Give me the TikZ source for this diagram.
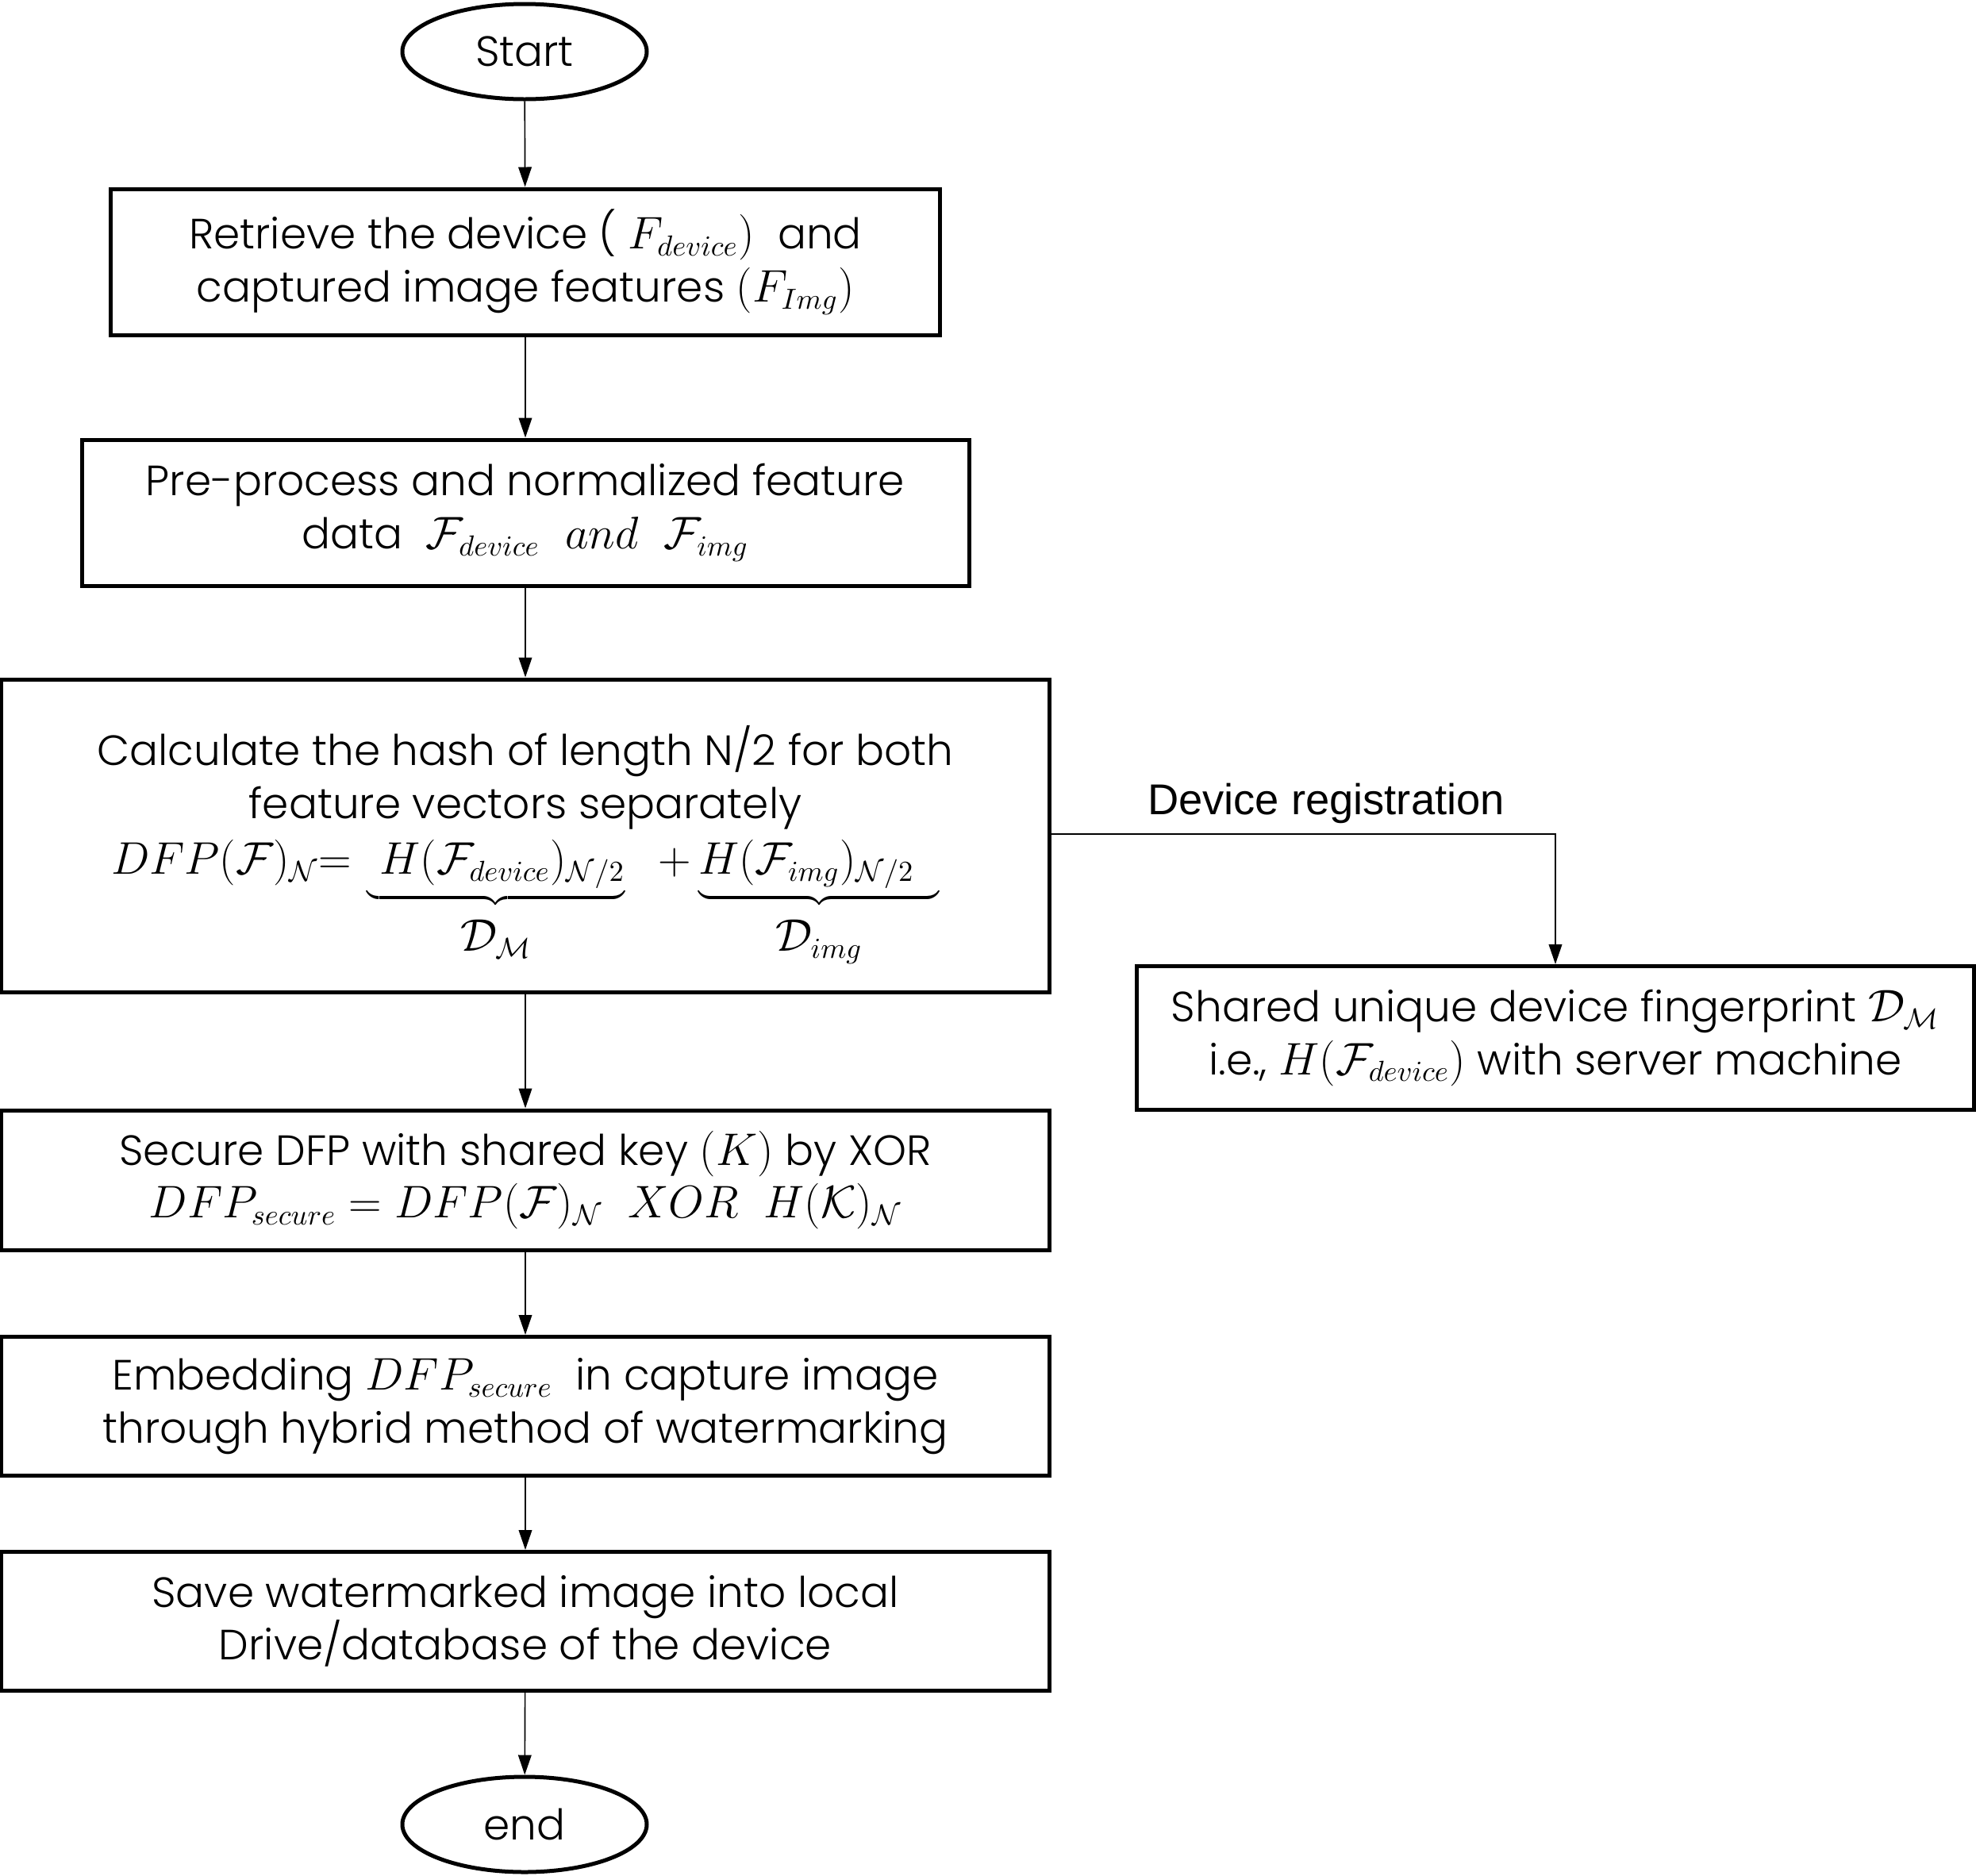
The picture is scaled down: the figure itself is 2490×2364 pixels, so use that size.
\documentclass[tikz,border=0pt]{standalone}
\usepackage{fontspec}
\setmainfont{Poppins}[UprightFont={* Light}]
\newfontfamily\arialfont{Liberation Sans}
\usetikzlibrary{shapes.geometric,arrows.meta}
\newcommand\boxfont{\fontsize{16}{20}\selectfont}
\tikzset{
  box/.style={draw, line width=1.5pt, rectangle, align=center, font=\boxfont, inner sep=0pt},
  term/.style={draw, line width=1.5pt, ellipse, minimum width=92.4pt, minimum height=36pt, inner sep=0pt, font=\boxfont},
  flow/.style={-{Triangle[length=7.5pt,width=5pt]}, line width=0.5pt},
  lbl/.style={font=\arialfont\fontsize{16.3}{19}\selectfont, inner sep=0pt}
}
\begin{document}
\begin{tikzpicture}[x=0.3pt,y=-0.3pt]
\useasboundingbox (0,0) rectangle (2490,2364);
\node[term] (start) at (661,65) {Start};
\node[box, minimum width=313.5pt, minimum height=55.2pt] (b1) at (662,330)
  {Retrieve the device ( $F_{device})$ \ and\\ captured image features $(F_{Img})$};
\node[box, minimum width=335.4pt, minimum height=55.2pt] (b2) at (662,646)
  {Pre-process and normalized feature\\ data \ $\mathcal{F}_{device}\;\; and\;\; \mathcal{F}_{img}$};
\node[box, minimum width=396.3pt, minimum height=118.2pt] (b3) at (662,1053)
  {\rule{0pt}{23pt}Calculate the hash of length N/2 for both\\ feature vectors separately\\[1pt]
   $DFP(\mathcal{F})_{\mathcal{N}}{=}\,\underbrace{\;H(\mathcal{F}_{device})_{\mathcal{N}/2}}_{\rule{0pt}{15pt}\textstyle\mathcal{D}_{\mathcal{M}}}\;\; +\underbrace{H(\mathcal{F}_{img})_{\mathcal{N}/2}\;\;}_{\rule{0pt}{15pt}\textstyle\mathcal{D}_{img}}$};
\node[box, minimum width=316.5pt, minimum height=54.3pt] (br) at (1960,1308)
  {Shared unique device fingerprint $\mathcal{D}_{\mathcal{M}}$\\ i.e., $H(\mathcal{F}_{device})$ with server machine};
\node[box, minimum width=396.3pt, minimum height=52.8pt] (b4) at (662,1487)
  {Secure DFP with shared key $(K)$ by XOR\\ $DFP_{secure} = DFP(\mathcal{F})_{\mathcal{N}}\;\; XOR\;\; H(\mathcal{K})_{\mathcal{N}}$};
\node[box, minimum width=396.3pt, minimum height=52.5pt] (b5) at (662,1772)
  {Embedding $DFP_{secure}$ \ in capture image\\ through hybrid method of watermarking};
\node[box, minimum width=396.3pt, minimum height=52.5pt] (b6) at (662,2043)
  {Save watermarked image into local\\ Drive/database of the device};
\node[term] (end) at (661,2299) {end};
\node[lbl] (reg) at (1671,1012) {Device registration};
\draw[flow] (start) -- (b1);
\draw[flow] (b1) -- (b2);
\draw[flow] (b2) -- (b3);
\draw[flow] (b3) -- (b4);
\draw[flow] (b4) -- (b5);
\draw[flow] (b5) -- (b6);
\draw[flow] (b6) -- (end);
\draw[flow] (b3.east |- 0,1051) -| (br.north);
\end{tikzpicture}
\end{document}
